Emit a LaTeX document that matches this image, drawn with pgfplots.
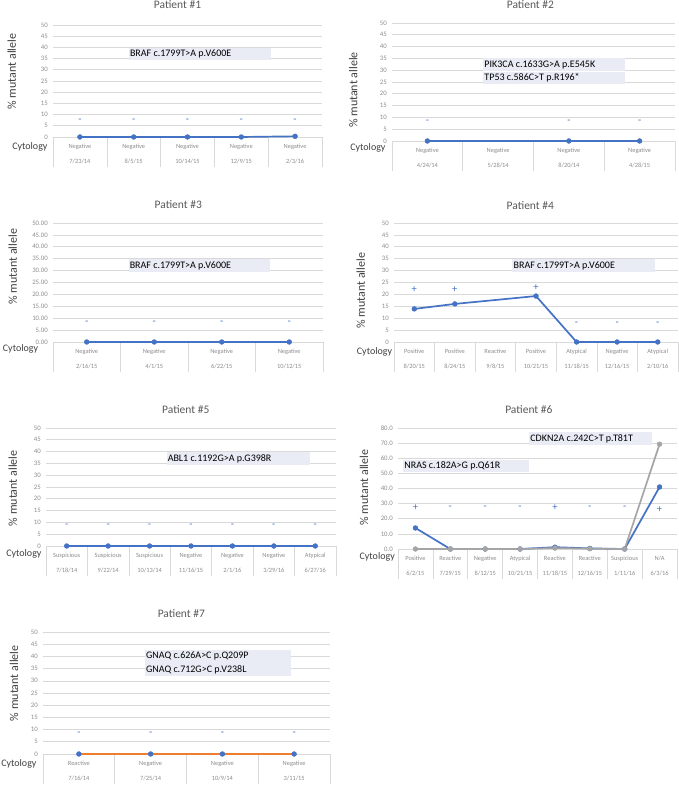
\documentclass[border=0pt]{standalone}
\usepackage{fontspec}
\setmainfont{Carlito}
\usepackage{pgfplots}
\pgfplotsset{compat=1.18}
\definecolor{blueC}{HTML}{4472C4}
\definecolor{grayC}{HTML}{A5A5A5}
\definecolor{orangeC}{HTML}{ED7D31}
\definecolor{gridc}{HTML}{D9D9D9}
\definecolor{tickc}{HTML}{8C8C8C}
\definecolor{titlec}{HTML}{595959}
\definecolor{labc}{HTML}{404040}
\definecolor{boxC}{HTML}{E9EBF5}
\tikzset{
  cyto/.style={anchor=east, font=\fontsize{10}{12}\selectfont, text=labc, inner sep=0pt},
  boxtxt/.style={anchor=west, font=\fontsize{10}{12}\selectfont, text=black, inner sep=1pt},
}
\pgfplotsset{
  pat/.style={
    scale only axis, anchor=south west, clip=false,
    xmin=0.5, ymin=0, ymax=50, ytick={0,5,...,50},
    axis line style={draw=none},
    ymajorgrids, grid style={draw=gridc, line width=0.6pt},
    major tick length=0pt,
    xtick pos=left, ytick pos=left,
    /pgf/number format/assume math mode=true,
    yticklabel style={font=\fontsize{6.8}{8}\selectfont, text=tickc, inner sep=0pt, xshift=-5pt},
    xticklabel style={font=\fontsize{6.4}{15}\selectfont, text=tickc, align=center, anchor=north, inner sep=0pt, yshift=-7.3pt},
    title style={font=\fontsize{11.5}{13}\selectfont, text=titlec, anchor=center},
    ylabel style={font=\fontsize{12}{14}\selectfont, text=labc, anchor=center},
    extra x tick labels={},
    extra x tick style={major tick length=30pt, tick align=outside, tick style={draw=gridc, line width=0.6pt}},
  },
  blueline/.style={color=blueC, line width=1.7pt, mark=*, mark size=2.4pt, mark options={fill=blueC, draw=blueC, line width=0.5pt}},
  grayline/.style={color=grayC, line width=1.7pt, mark=*, mark size=2.4pt, mark options={fill=grayC, draw=grayC, line width=0.5pt}},
  signs/.style={only marks, mark=none, nodes near coords, point meta=explicit symbolic, nodes near coords style={anchor=center, font=\fontsize{10.5}{11}\selectfont, text=blueC, inner sep=0pt}},
}
\begin{document}
\begin{tikzpicture}
\path[use as bounding box] (0,0) rectangle (679pt,786pt);

% Patient 1
\begin{axis}[pat, at={(53pt,649pt)}, width=269pt, height=112pt, xmax=5.5,
  xtick={1,...,5}, xticklabels={{Negative\\7/23/14},{Negative\\8/5/15},{Negative\\10/14/15},{Negative\\12/9/15},{Negative\\2/3/16}},
  extra x ticks={0.5,1.5,2.5,3.5,4.5,5.5},
  title={Patient \#1}, title style={at={(0.463,1)}, yshift=14.3pt},
  ylabel={\% mutant allele}, ylabel style={at={(axis description cs:-0.1535,0.585)}}]
\fill[boxC] (axis cs:1.91,34.4) rectangle (axis cs:4.55,39.7);
\node[boxtxt] at (axis cs:1.91,37.05) {BRAF c.1799T>A p.V600E};
\addplot[blueline] coordinates {(1,0) (2,0) (3,0) (4,0) (5,0.3)};
\addplot[signs] coordinates {(1,7.3)[-] (2,7.3)[-] (3,7.3)[-] (4,7.3)[-] (5,7.3)[-]};
\node[cyto, xshift=-5.3pt, yshift=-9.7pt] at (rel axis cs:0,0) {Cytology};
\end{axis}

% Patient 2
\begin{axis}[pat, at={(392pt,645pt)}, width=283pt, height=118pt, xmax=4.5,
  xtick={1,...,4}, xticklabels={{Negative\\4/24/14},{Negative\\5/28/14},{Negative\\8/20/14},{Negative\\4/28/15}},
  extra x ticks={0.5,1.5,2.5,3.5,4.5},
  title={Patient \#2}, title style={at={(0.489,1)}, yshift=12.7pt},
  ylabel={\% mutant allele}, ylabel style={at={(axis description cs:-0.1367,0.432)}}]
\fill[boxC] (axis cs:1.79,29.8) rectangle (axis cs:3.79,35.0);
\fill[boxC] (axis cs:1.79,24.0) rectangle (axis cs:3.79,29.4);
\node[boxtxt] at (axis cs:1.79,32.4) {PIK3CA c.1633G>A p.E545K};
\node[boxtxt] at (axis cs:1.79,26.7) {TP53 c.586C>T p.R196*};
\addplot[blueline] coordinates {(1,0) (3,0) (4,0)};
\addplot[signs] coordinates {(1,8)[-] (3,8)[-] (4,8)[-]};
\node[cyto, xshift=-6.3pt, yshift=-7.3pt] at (rel axis cs:0,0) {Cytology};
\end{axis}

% Patient 3
\begin{axis}[pat, at={(53pt,444pt)}, width=270pt, height=119pt, xmax=4.5,
  yticklabel style={/pgf/number format/fixed, /pgf/number format/fixed zerofill, /pgf/number format/precision=2},
  xtick={1,...,4}, xticklabels={{Negative\\2/16/15},{Negative\\4/1/15},{Negative\\6/22/15},{Negative\\10/12/15}},
  extra x ticks={0.5,1.5,2.5,3.5,4.5},
  title={Patient \#3}, title style={at={(0.464,1)}, yshift=12pt},
  ylabel={\% mutant allele}, ylabel style={at={(axis description cs:-0.149,0.633)}}]
\fill[boxC] (axis cs:1.62,29.5) rectangle (axis cs:3.71,34.7);
\node[boxtxt] at (axis cs:1.62,32.1) {BRAF c.1799T>A p.V600E};
\addplot[blueline] coordinates {(1,0) (2,0) (3,0) (4,0)};
\addplot[signs] coordinates {(1,8.1)[-] (2,8.1)[-] (3,8.1)[-] (4,8.1)[-]};
\node[cyto, xshift=-14.7pt, yshift=-7.3pt] at (rel axis cs:0,0) {Cytology};
\end{axis}

% Patient 4
\begin{axis}[pat, at={(394pt,444pt)}, width=284pt, height=119pt, xmax=7.5,
  xtick={1,...,7}, xticklabels={{Positive\\8/20/15},{Positive\\8/24/15},{Reactive\\9/8/15},{Positive\\10/21/15},{Atypical\\11/18/15},{Negative\\12/16/15},{Atypical\\2/10/16}},
  extra x ticks={0.5,1.5,2.5,3.5,4.5,5.5,6.5,7.5},
  title={Patient \#4}, title style={at={(0.48,1)}, yshift=11pt},
  ylabel={\% mutant allele}, ylabel style={at={(axis description cs:-0.117,0.43)}}]
\fill[boxC] (axis cs:3.42,29.3) rectangle (axis cs:6.93,34.9);
\node[boxtxt] at (axis cs:3.42,32.1) {BRAF c.1799T>A p.V600E};
\addplot[blueline] coordinates {(1,13.9) (2,16.0) (4,19.3) (5,0) (6,0) (7,0)};
\addplot[signs] coordinates {(1,21.8)[+] (2,22.1)[+] (4,23.0)[+] (5,7.8)[-] (6,7.8)[-] (7,7.8)[-]};
\node[cyto, xshift=-1.7pt, yshift=-9.7pt] at (rel axis cs:0,0) {Cytology};
\end{axis}

% Patient 5
\begin{axis}[pat, at={(46pt,240pt)}, width=290pt, height=118pt, xmax=7.5,
  xtick={1,...,7}, xticklabels={{Suspicious\\7/18/14},{Suspicious\\9/22/14},{Suspicious\\10/13/14},{Negative\\11/16/15},{Negative\\2/1/16},{Negative\\3/29/16},{Atypical\\6/27/16}},
  extra x ticks={0.5,1.5,2.5,3.5,4.5,5.5,6.5,7.5},
  title={Patient \#5}, title style={at={(0.482,1)}, yshift=12pt},
  ylabel={\% mutant allele}, ylabel style={at={(axis description cs:-0.115,0.489)}}]
\fill[boxC] (axis cs:3.41,34.3) rectangle (axis cs:6.87,39.7);
\node[boxtxt] at (axis cs:3.41,37.0) {ABL1 c.1192G>A p.G398R};
\addplot[blueline] coordinates {(1,0) (2,0) (3,0) (4,0) (5,0) (6,0) (7,0)};
\addplot[signs] coordinates {(1,8.6)[-] (2,8.6)[-] (3,8.6)[-] (4,8.6)[-] (5,8.6)[-] (6,8.6)[-] (7,8.6)[-]};
\node[cyto, xshift=-4.3pt, yshift=-8pt] at (rel axis cs:0,0) {Cytology};
\end{axis}

% Patient 6
\begin{axis}[pat, at={(398pt,237pt)}, width=279pt, height=121pt, xmax=8.5, ymax=80, ytick={0,10,...,80},
  yticklabel style={/pgf/number format/fixed, /pgf/number format/fixed zerofill, /pgf/number format/precision=1},
  xtick={1,...,8}, xticklabels={{Positive\\6/2/15},{Reactive\\7/29/15},{Negative\\8/12/15},{Atypical\\10/21/15},{Reactive\\11/18/15},{Reactive\\12/16/15},{Suspicious\\1/11/16},{N/A\\6/3/16}},
  extra x ticks={0.5,1.5,2.5,3.5,4.5,5.5,6.5,7.5,8.5},
  title={Patient \#6}, title style={at={(0.469,1)}, yshift=12pt},
  ylabel={\% mutant allele}, ylabel style={at={(axis description cs:-0.122,0.508)}}]
\fill[boxC] (axis cs:4.26,68.8) rectangle (axis cs:7.77,77.2);
\node[boxtxt] at (axis cs:4.26,73.0) {CDKN2A c.242C>T p.T81T};
\fill[boxC] (axis cs:0.65,50.7) rectangle (axis cs:4.26,58.8);
\node[boxtxt] at (axis cs:0.65,54.75) {NRAS c.182A>G p.Q61R};
\addplot[blueline] coordinates {(1,13.9) (2,0) (3,0) (4,0) (5,1.2) (6,0.4) (7,0) (8,41)};
\addplot[grayline] coordinates {(1,0) (2,0) (3,0) (4,0) (5,0.6) (6,0.2) (7,0) (8,69.3)};
\addplot[signs] coordinates {(1,27.3)[+] (2,27)[-] (3,27)[-] (4,27)[-] (5,27.3)[+] (6,27)[-] (7,27)[-] (8,26)[+]};
\node[cyto, xshift=-3pt, yshift=-8.3pt] at (rel axis cs:0,0) {Cytology};
\end{axis}

% Patient 7
\begin{axis}[pat, at={(43pt,32pt)}, width=287pt, height=122pt, xmax=4.5,
  xtick={1,...,4}, xticklabels={{Reactive\\7/16/14},{Negative\\7/25/14},{Negative\\10/9/14},{Negative\\3/11/15}},
  extra x ticks={0.5,1.5,2.5,3.5,4.5},
  title={Patient \#7}, title style={at={(0.482,1)}, yshift=12pt},
  ylabel={\% mutant allele}, ylabel style={at={(axis description cs:-0.101,0.58)}}]
\fill[boxC] (axis cs:1.92,37.4) rectangle (axis cs:3.95,42.6);
\fill[boxC] (axis cs:1.92,32.0) rectangle (axis cs:3.95,37.2);
\node[boxtxt] at (axis cs:1.92,40.0) {GNAQ c.626A>C p.Q209P};
\node[boxtxt] at (axis cs:1.92,34.6) {GNAQ c.712G>C p.V238L};
\addplot[blueline] coordinates {(1,0) (2,0) (3,0) (4,0)};
\addplot[color=orangeC, line width=1.7pt, mark=none] coordinates {(1,0) (2,0) (3,0) (4,0)};
\addplot[signs] coordinates {(1,8.2)[-] (2,8.2)[-] (3,8.2)[-] (4,8.2)[-]};
\node[cyto, xshift=-6.3pt, yshift=-10pt] at (rel axis cs:0,0) {Cytology};
\end{axis}
\end{tikzpicture}
\end{document}
